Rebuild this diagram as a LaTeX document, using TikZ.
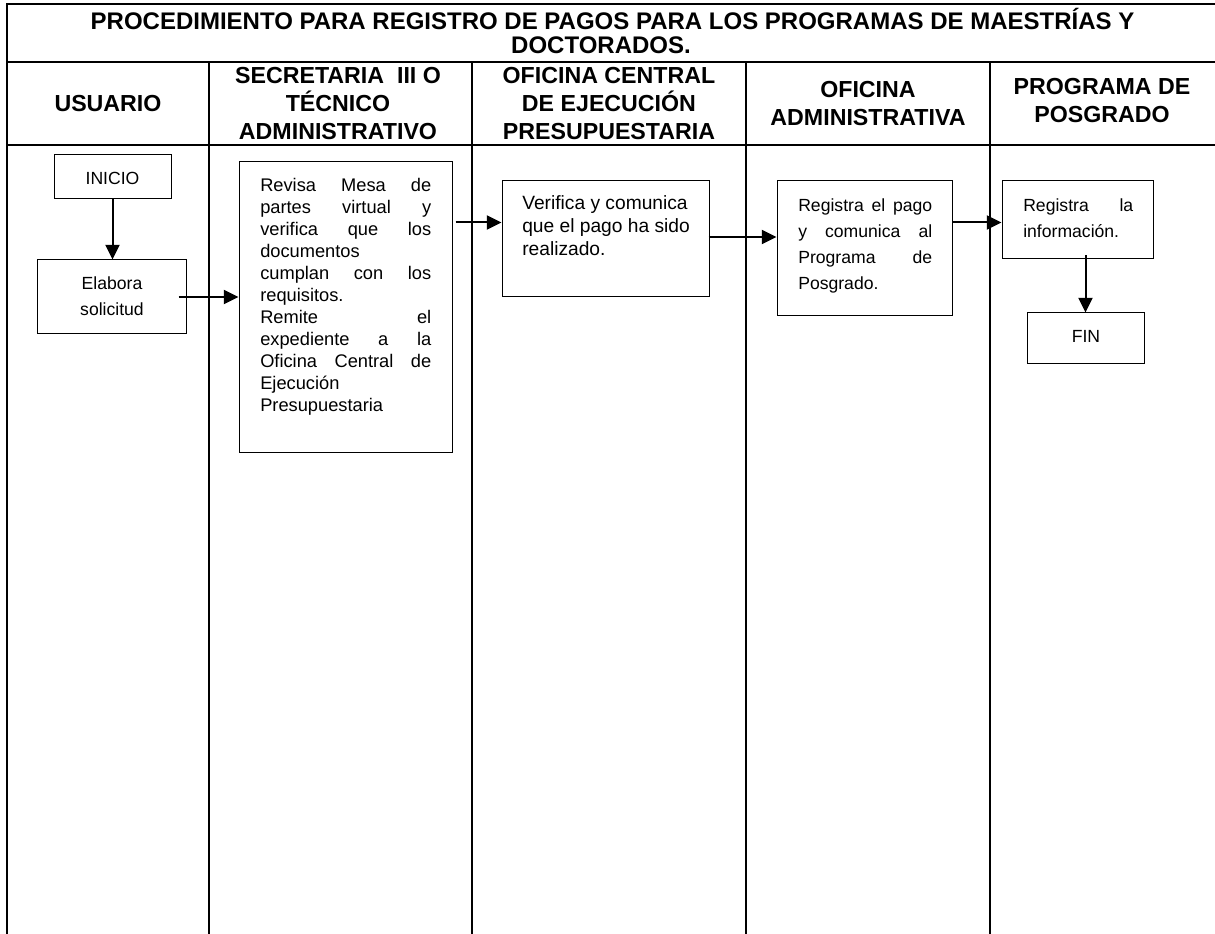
\documentclass[tikz,border=0pt]{standalone}
\usepackage{fontspec}
\setmainfont{Liberation Sans}
\usetikzlibrary{arrows.meta,fit}
\tikzset{
  tline/.style={line width=1.5pt},
  box/.style={draw, line width=0.75pt, inner sep=0pt},
  arr/.style={line width=1.5pt, -{Triangle[length=11pt,width=10.5pt]}},
  txt/.style={inner sep=0pt, anchor=base west},
  ctxt/.style={inner sep=0pt, anchor=base},
  hfont/.style={font=\fontsize{17.4}{21}\selectfont\bfseries},
  tfont/.style={font=\fontsize{18}{18.5}\selectfont\bfseries},
  bfont/.style={font=\fontsize{13.7}{16.5}\selectfont},
  cfont/.style={font=\fontsize{14.4}{16.9}\selectfont},
  sfont/.style={font=\fontsize{13.2}{19.3}\selectfont},
  efont/.style={font=\fontsize{13.2}{19.5}\selectfont}
}
\begin{document}
\begin{tikzpicture}[x=0.75pt,y=-0.75pt]
\useasboundingbox (0,0) rectangle (1215,934);
% table frame
\draw[tline] (7,934) -- (7,4) -- (1215,4);
\draw[tline] (7,62) -- (1215,62);
\draw[tline] (7,145) -- (1215,145);
\foreach \cx in {209,472,746,990}{\draw[tline] (\cx,62) -- (\cx,934);}
% title
\node[ctxt,tfont] (title1) at (612.5,29.5) {PROCEDIMIENTO PARA REGISTRO DE PAGOS PARA LOS PROGRAMAS DE MAESTRÍAS Y};
\node[ctxt,tfont] (title2) at (601,54) {DOCTORADOS.};
% headers
\node[ctxt,hfont] (h1) at (108,112) {USUARIO};
\node[ctxt,hfont] (h2) at (338,83.5) {\parbox[t]{190pt}{\centering SECRETARIA\ \ III O\\TÉCNICO\\ADMINISTRATIVO}};
\node[ctxt,hfont] (h3) at (609,83.5) {\parbox[t]{200pt}{\centering OFICINA CENTRAL\\DE EJECUCIÓN\\PRESUPUESTARIA}};
\node[ctxt,hfont] (h4) at (868,98) {\parbox[t]{180pt}{\centering OFICINA\\ADMINISTRATIVA}};
\node[ctxt,hfont] (h5) at (1102,95) {\parbox[t]{165pt}{\centering PROGRAMA DE\\POSGRADO}};
% boxes
\node[box, fit={(54,155) (171,199)}] (inicio) {};
\node[box, fit={(37,260) (186,334)}] (elab) {};
\node[box, fit={(239,162) (452,453)}] (b2) {};
\node[box, fit={(502,181) (709,297)}] (b3) {};
\node[box, fit={(777,181) (952,316)}] (b4) {};
\node[box, fit={(1002,181) (1153,259)}] (b5) {};
\node[box, fit={(1027,313) (1144,364)}] (fin) {};
% texts
\node[ctxt,sfont] (tinicio) at (112.5,185) {INICIO};
\node[ctxt,efont] (telab) at (112,290) {\parbox[t]{90pt}{\centering Elabora\\solicitud}};
\node[txt,bfont] (tb2) at (260,192) {\parbox[t]{128.25pt}{%
Revisa\hfill Mesa\hfill de\\
partes\hfill virtual\hfill y\\
verifica\hfill que\hfill los\\
documentos\\
cumplan\hfill con\hfill los\\
requisitos.\\
Remite\hfill el\\
expediente\hfill a\hfill la\\
Oficina\hfill Central\hfill de\\
Ejecución\\
Presupuestaria}};
\node[txt,cfont] (tb3) at (522,210) {\parbox[t]{145pt}{%
Verifica y comunica\\
que el pago ha sido\\
realizado.}};
\node[txt,sfont] (tb4) at (798,212) {\parbox[t]{100.5pt}{%
Registra\hfill el\hfill pago\\
y\hfill comunica\hfill al\\
Programa\hfill de\\
Posgrado.}};
\node[txt,sfont] (tb5) at (1023,212) {\parbox[t]{82.5pt}{%
Registra\hfill la\\
información.}};
\node[ctxt,sfont] (tfin) at (1086,343) {FIN};
% connectors
\coordinate (s3) at ([shift={(3,61)}]b2.north east);
\coordinate (s5) at ([shift={(0,42)}]b4.north east);
\draw[arr] (inicio.south) -- (inicio.south |- elab.north);
\draw[arr] ([xshift=-6pt]elab.east) -- (elab.east -| b2.west);
\draw[arr] (s3) -- (s3 -| b3.west);
\draw[arr] ([shift={(-1,-2)}]b3.east) -- ([yshift=1.5pt]b3.east -| b4.west);
\draw[arr] (s5) -- (s5 -| b5.west);
\draw[arr] ([yshift=3pt]b5.south -| fin.north) -- (fin.north);
\end{tikzpicture}
\end{document}
